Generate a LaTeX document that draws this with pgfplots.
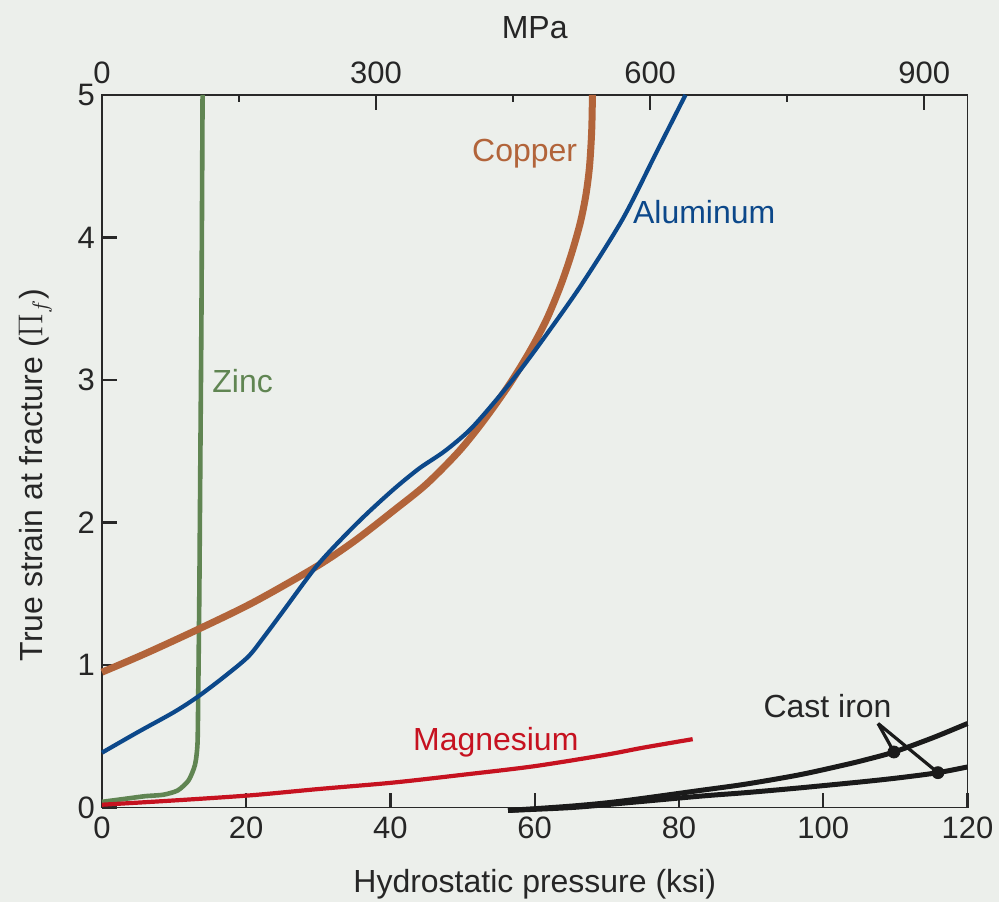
\documentclass[border=0pt]{standalone}
\usepackage{fontspec}
\setmainfont{Liberation Sans}
\usepackage{pgfplots}
\pgfplotsset{compat=1.18}
\definecolor{bgc}{RGB}{236,239,235}
\definecolor{cu}{RGB}{178,100,58}
\definecolor{al}{RGB}{12,72,138}
\definecolor{zn}{RGB}{96,133,82}
\definecolor{mg}{RGB}{198,18,32}
\definecolor{fe}{RGB}{26,26,26}
\definecolor{axc}{RGB}{40,40,40}
\begin{document}
\begin{tikzpicture}[x=1pt,y=1pt]
\fill[bgc] (0,0) rectangle (500,451);
\begin{axis}[
  at={(51pt,47pt)}, anchor=south west, scale only axis,
  width=433pt, height=356.5pt,
  xmin=0, xmax=120, ymin=0, ymax=5,
  clip=false,
  axis line style={axc, line width=0.9pt},
  every tick/.style={axc, line width=1.1pt},
  tick align=inside,
  major tick length=7.5pt, minor tick length=3.5pt,
  /pgf/number format/assume math mode=true,
  tick label style={font=\fontsize{15.5}{18}\selectfont, text=black!85},
  label style={font=\fontsize{16}{19}\selectfont, text=black!85},
  axis x line*=top, axis y line=none,
  xtick={0,38,76,114}, xticklabels={0,300,600,900},
  minor xtick={19,57,95},
  xticklabel style={yshift=2pt},
  xlabel={MPa},
  xlabel style={at={(axis description cs:0.5,1.095)}, anchor=center},
]
\addplot[draw=none] coordinates {(0,0)(120,5)};
\end{axis}
\begin{axis}[
  at={(51pt,47pt)}, anchor=south west, scale only axis,
  width=433pt, height=356.5pt,
  xmin=0, xmax=120, ymin=0, ymax=5,
  clip=false,
  axis line style={axc, line width=0.9pt},
  every tick/.style={axc, line width=1.1pt},
  tick align=inside,
  major tick length=7.5pt, minor tick length=3.5pt,
  /pgf/number format/assume math mode=true,
  tick label style={font=\fontsize{15.5}{18}\selectfont, text=black!85},
  label style={font=\fontsize{16}{19}\selectfont, text=black!85},
  xtick={0,20,40,60,80,100,120},
  ytick={0,1,2,3,4,5},
  xtick pos=bottom, ytick pos=left,
  xlabel={Hydrostatic pressure (ksi)},
  ylabel={True strain at fracture (\(\Pi_f\))},
  xlabel style={at={(axis description cs:0.5,-0.107)}, anchor=center},
  ylabel style={at={(axis description cs:-0.077,0.467)}, anchor=center, rotate=0},
  xticklabel style={yshift=-1pt},
]
% Zinc
\addplot[zn, line width=2.3pt, smooth, tension=0.4] coordinates {
(0,0.04)(3,0.06)(6,0.08)(8.5,0.09)(10.5,0.12)(12,0.19)(12.9,0.3)(13.25,0.45)(13.35,0.8)(13.5,1.5)(13.65,2.5)(13.8,3.5)(13.95,5)};
% Copper
\addplot[cu, line width=3.5pt, smooth] coordinates {
(0,0.95)(6,1.08)(13.3,1.25)(21,1.44)(29.7,1.69)(35,1.87)(40.6,2.09)(45,2.27)(49.5,2.50)(53,2.72)(56.5,2.97)(59.3,3.2)(61.6,3.42)(63.5,3.65)(65,3.87)(66.3,4.1)(67.1,4.3)(67.6,4.5)(67.9,4.75)(68,5)};
% Aluminum
\addplot[al, line width=2.1pt, smooth, tension=0.5] coordinates {
(0,0.385)(5,0.53)(10,0.67)(13.35,0.78)(17,0.92)(20.3,1.06)(22.5,1.2)(25,1.37)(29.7,1.69)(33.7,1.91)(36.9,2.07)(40.6,2.24)(44,2.38)(47.5,2.50)(51,2.65)(54.5,2.85)(58,3.07)(61.5,3.31)(66.5,3.67)(72.2,4.13)(76.9,4.6)(80.9,5)};
% Magnesium
\addplot[mg, line width=2.1pt, smooth] coordinates {
(0,0.02)(10,0.05)(20.6,0.086)(30,0.13)(40.3,0.175)(50,0.23)(59.9,0.29)(69.8,0.37)(75,0.42)(81.9,0.48)};
% Cast iron
\addplot[fe, line width=2.5pt, smooth] coordinates {
(56.3,-0.02)(65,0.01)(72,0.045)(82.9,0.12)(89.3,0.165)(96.7,0.23)(103,0.30)(106,0.337)(109.8,0.39)(115.2,0.49)(120,0.59)};
\addplot[fe, line width=2.5pt, smooth] coordinates {
(56.3,-0.02)(65,0.0)(72,0.03)(82.9,0.08)(89.3,0.105)(96.7,0.138)(106,0.184)(111,0.212)(115.9,0.245)(120,0.285)};
\addplot[fe, line width=1.6pt] coordinates {(107.6,0.59)(109.8,0.39)};
\addplot[fe, line width=1.6pt] coordinates {(107.6,0.59)(115.9,0.245)};
\addplot[fe, only marks, mark=*, mark size=3pt] coordinates {(109.8,0.39)(115.9,0.245)};
% Labels
\node[cu, font=\fontsize{16}{19}\selectfont] at (axis cs:58.6,4.59) {Copper};
\node[al, font=\fontsize{16}{19}\selectfont] at (axis cs:83.5,4.18) {Aluminum};
\node[zn, font=\fontsize{16}{19}\selectfont] at (axis cs:19.5,2.99) {Zinc};
\node[mg, font=\fontsize{16}{19}\selectfont] at (axis cs:54.6,0.46) {Magnesium};
\node[black!85, font=\fontsize{16}{19}\selectfont] at (axis cs:100.6,0.715) {Cast iron};
\end{axis}
\end{tikzpicture}
\end{document}
